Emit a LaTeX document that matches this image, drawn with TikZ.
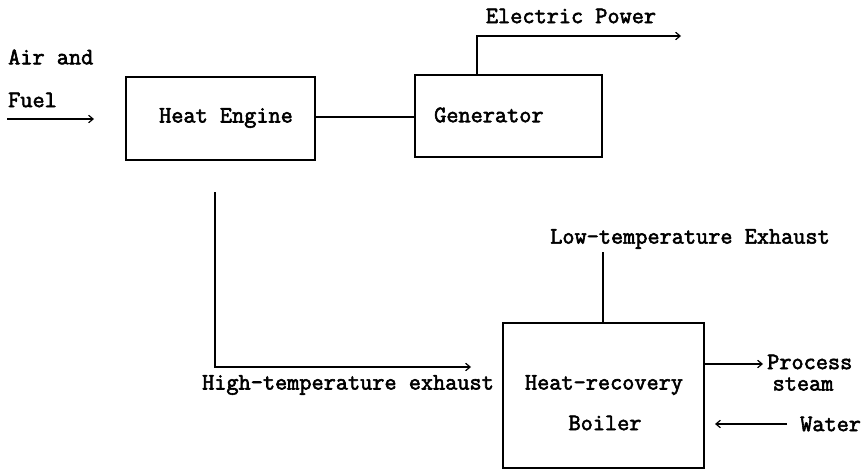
\documentclass[tikz,border=0pt]{standalone}
\usepackage{fontspec}
\newfontfamily\diagfont{Latin Modern Mono}[FakeBold=2.5]
\usetikzlibrary{arrows.meta}
\tikzset{
  lbl/.style={inner sep=0pt, font=\diagfont\bfseries\fontsize{23.6pt}{27pt}\selectfont},
  box/.style={draw, line width=1.3pt, inner sep=0pt},
  conn/.style={line width=1.2pt},
  arr/.style={conn, -{Straight Barb[length=4.5pt,width=7.5pt,line width=1.2pt]}}
}
\begin{document}
\begin{tikzpicture}[x=1pt,y=-1pt]
\useasboundingbox (0,0) rectangle (864,471);
% boxes
\node[box, minimum width=189pt, minimum height=83pt] (he) at (220.5,118.5) {};
\node[box, minimum width=187pt, minimum height=82pt] (gen) at (508.5,116) {};
\node[box, minimum width=201pt, minimum height=145pt] (boiler) at (603.5,395.5) {};
% box labels
\node[lbl] (heT) at (226,118) {Heat Engine};
\node[lbl, anchor=west] (genT) at (434,115) {Generator};
\node[lbl] (boT1) at (604,385) {Heat-recovery};
\node[lbl] (boT2) at (605,423) {Boiler};
% free labels
\node[lbl, anchor=west] (air) at (8,57) {Air and};
\node[lbl, anchor=west] (fuel) at (8,100) {Fuel};
\node[lbl] (ep) at (571,16) {Electric Power};
\node[lbl] (ht) at (348,385) {High-temperature exhaust};
\node[lbl] (lt) at (690,239) {Low-temperature Exhaust};
\node[lbl, anchor=west] (proc) at (767,362) {Process};
\node[lbl] (steam) at (803,384) {steam};
\node[lbl, anchor=west] (water) at (800,424) {Water};
% coordinates
\coordinate (af0) at (7,119);
\coordinate (af1) at (94,119);
\coordinate (epEnd) at (681,36);
\coordinate (ht0) at (215,192);
\coordinate (ht1) at (471,367);
\coordinate (lt0) at (603,252);
\coordinate (psEnd) at (763,364);
\coordinate (w0) at (787,424);
\coordinate (w1) at (715,424);
% connectors
\draw[arr] (af0) -- (af1);
\draw[conn] (he.east |- 0,117) -- (gen.west |- 0,117);
\draw[arr] (gen.north -| 477,0) |- (epEnd);
\draw[arr] (ht0) |- (ht1);
\draw[conn] (boiler.north -| lt0) -- (lt0);
\draw[arr] (boiler.east |- psEnd) -- (psEnd);
\draw[arr] (w0) -- (w1);
\end{tikzpicture}
\end{document}
